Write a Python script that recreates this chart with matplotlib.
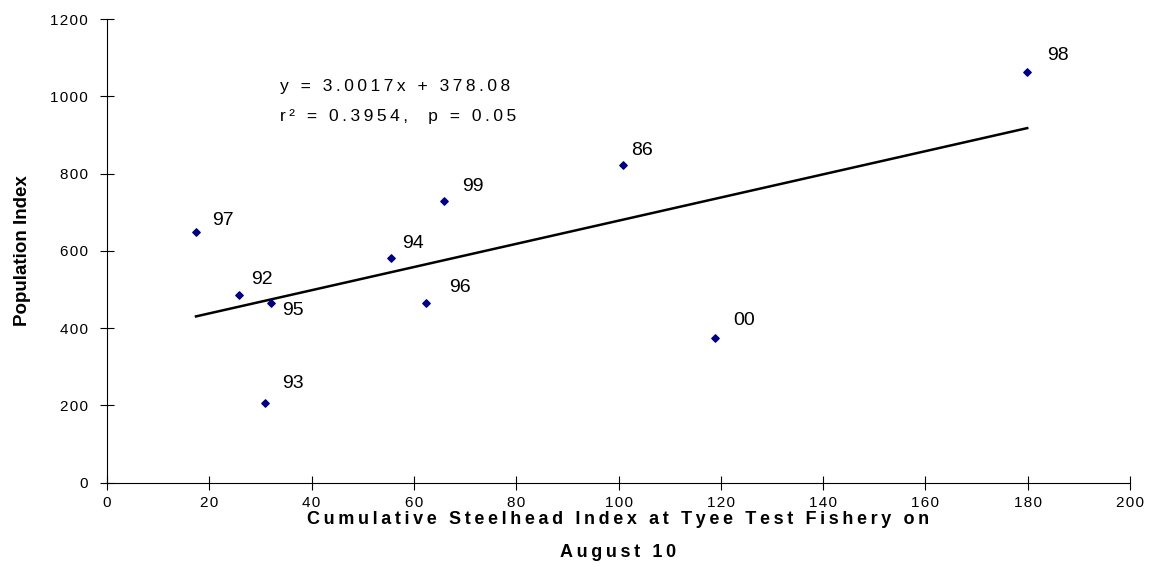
import numpy as np
import matplotlib.pyplot as plt
from matplotlib.ticker import FuncFormatter

plt.rcParams['font.family'] = ['Liberation Sans', 'DejaVu Sans']

# Tyee test fishery index vs. population index, one point per year
years = ['97', '92', '95', '93', '94', '99', '96', '86', '00', '98']
tyee_index = [17.4, 25.9, 32.0, 30.9, 55.6, 65.8, 62.4, 100.8, 118.9, 179.9]
pop_index = [648, 486, 466, 207, 582, 730, 464, 822, 375, 1063]

# fitted regression line
slope = 3.0017
intercept = 378.08

# year label offsets from each point, in pixels (dx to left edge, dy up)
label_px = {'97': (16, 12), '92': (12, 15), '95': (11, -8), '93': (17, 19),
            '94': (11, 14), '99': (19, 14), '96': (23, 16), '86': (9, 15),
            '00': (18, 17), '98': (20, 17)}

THIN = '\u2009'
HAIR = '\u200a'


def spaced(s, gap=THIN):
    # widen the text the way the old spreadsheet export did
    return gap.join(s)


fig = plt.figure(figsize=(11.49, 5.67), dpi=100)
ax = fig.add_axes([0.0931, 0.149, 0.8904, 0.817])

ax.scatter(tyee_index, pop_index, marker='D', s=14, color='#000080', zorder=3)

xs = np.array([min(tyee_index), max(tyee_index)])
ax.plot(xs, slope * xs + intercept, color='black', lw=1.8)

for yr, x, y in zip(years, tyee_index, pop_index):
    dx, dy = label_px[yr]
    ax.annotate(yr, (x, y), xytext=(dx * 0.72, dy * 0.72),
                textcoords='offset points', fontsize=14,
                ha='left', va='center')

ax.text(33.9, 1027, spaced('y = 3.0017x + 378.08'), fontsize=12.5, va='center')
ax.text(33.9, 949, spaced('r\u00b2 = 0.3954,  p = 0.05'), fontsize=12.5,
        va='center')

ax.set_xlim(0, 200)
ax.set_ylim(0, 1200)
ax.set_xticks(np.arange(0, 201, 20))
ax.set_yticks(np.arange(0, 1201, 200))
fmt = FuncFormatter(lambda v, pos: spaced(f'{v:.0f}', HAIR))
ax.xaxis.set_major_formatter(fmt)
ax.yaxis.set_major_formatter(fmt)
ax.spines['top'].set_visible(False)
ax.spines['right'].set_visible(False)
ax.tick_params(direction='inout', length=10, width=0.8, labelsize=11)
ax.tick_params(axis='y', pad=9)
ax.tick_params(axis='x', pad=5)

ax.set_ylabel('Population Index', fontsize=13.5, fontweight='bold')
ax.yaxis.set_label_coords(-0.074, 0.5)
ax.set_xlabel(spaced('Cumulative Steelhead Index at Tyee Test Fishery on') +
              '\n' + spaced('August 10'),
              fontsize=13, fontweight='bold', linespacing=2.2, va='top')
ax.xaxis.set_label_coords(0.5, -0.062)

fig.savefig('out.png', dpi=100)
